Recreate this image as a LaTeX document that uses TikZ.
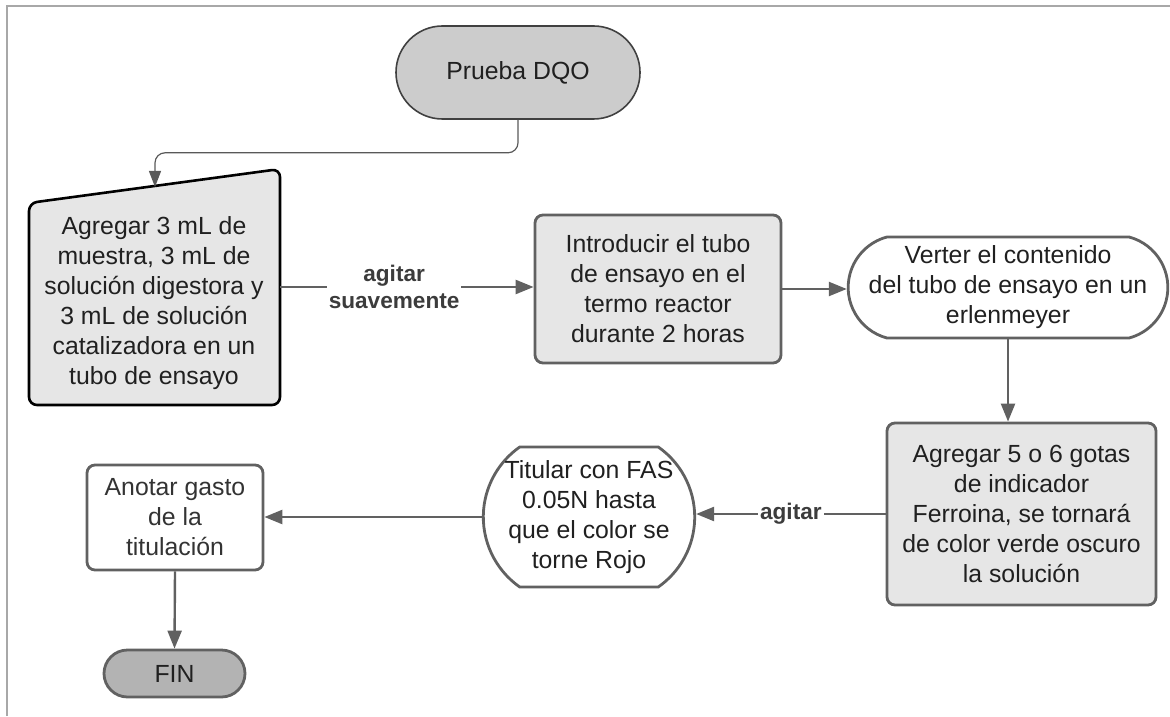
\documentclass[tikz,border=0pt]{standalone}
\usepackage{fontspec}
\setmainfont{Liberation Sans}
\usetikzlibrary{arrows.meta,shapes.misc}
\definecolor{boxgray}{HTML}{E6E6E6}
\definecolor{startgray}{HTML}{CCCCCC}
\definecolor{fingray}{HTML}{B3B3B3}
\definecolor{linegray}{HTML}{616161}
\definecolor{framegray}{HTML}{A8A8A8}
\definecolor{txt}{HTML}{202020}
\definecolor{tagtxt}{HTML}{3C3C3C}

\begin{document}
\begin{tikzpicture}[x=0.5pt,y=-0.5pt,
  body/.style={font=\fontsize{12.4}{15}\selectfont, text=txt, align=center},
  proc/.style={body, rectangle, rounded corners=4pt, draw=linegray, line width=1.4pt, fill=boxgray, inner sep=0pt},
  term/.style={body, rounded rectangle, draw=linegray, line width=1.4pt, inner sep=0pt},
  flow/.style={draw=linegray, line width=1.2pt, -{Triangle[length=9pt,width=7pt]}},
  tag/.style={font=\fontsize{11.3}{13.5}\selectfont\bfseries, text=tagtxt, fill=white, align=center, inner sep=1pt}
]
\useasboundingbox (0,0) rectangle (1170,716);

% frame
\draw[framegray, line width=1pt] (7,716) -- (7,6) -- (1170,6);

% start
\node[term, fill=startgray, draw=black!75, line width=0.8pt, minimum width=122pt, minimum height=46.5pt] (prueba) at (518,72.5) {Prueba DQO};

% manual input
\draw[fill=boxgray, draw=black, line width=1.3pt, rounded corners=4pt] (29,203) -- (280,169) -- (280,405) -- (29,405) -- cycle;
\node[body] (muestra) at (154,303) {Agregar 3 mL de\\muestra, 3 mL de\\soluci\'on digestora y\\3 mL de soluci\'on\\catalizadora en un\\tubo de ensayo};
\coordinate (mtop) at (155,187);
\coordinate (mout) at (280,287);

\node[proc, minimum width=123pt, minimum height=74pt] (intro) at (658,289) {Introducir el tubo\\de ensayo en el\\termo reactor\\durante 2 horas};
\node[term, fill=white, rounded rectangle arc length=150, minimum width=147pt, minimum height=50.5pt] (verter) at (1008,287.5) {Verter el contenido\\del tubo de ensayo en un\\erlenmeyer};
\node[proc, minimum width=134.5pt, minimum height=91pt] (indicador) at (1021.5,514) {Agregar 5 o 6 gotas\\de indicador\\Ferroina, se tornar\'a\\de color verde oscuro\\la soluci\'on};
\node[term, fill=white, rounded rectangle arc length=110, minimum width=96pt, minimum height=70pt] (titular) at (589,517) {Titular con FAS\\0.05N hasta\\que el color se\\torne Rojo};
\node[proc, fill=white, minimum width=88pt, minimum height=52.5pt, text=black!80] (anotar) at (175,517.5) {Anotar gasto\\de la\\titulaci\'on};
\node[term, fill=fingray, minimum width=70.5pt, minimum height=23.5pt] (fin) at (174.5,673.5) {FIN};

% connectors
\draw[draw=black!65, line width=0.6pt, rounded corners=5pt, -{Triangle[length=8pt,width=6pt]}] (prueba.south) -- ++(0,33) -| (mtop);
\draw[flow] (mout) -- (mout -| intro.west) node[tag, pos=0.45] {agitar\\suavemente};
\draw[flow] (intro.east) -- (intro.east -| verter.west);
\draw[flow] (verter.south) -- (verter.south |- indicador.north);
\draw[flow] (indicador.west) -- (indicador.west -| titular.east) node[tag, midway] {agitar};
\draw[flow] (titular.west) -- (titular.west -| anotar.east);
\draw[flow] (anotar.south) -- (fin.north);
\end{tikzpicture}
\end{document}
